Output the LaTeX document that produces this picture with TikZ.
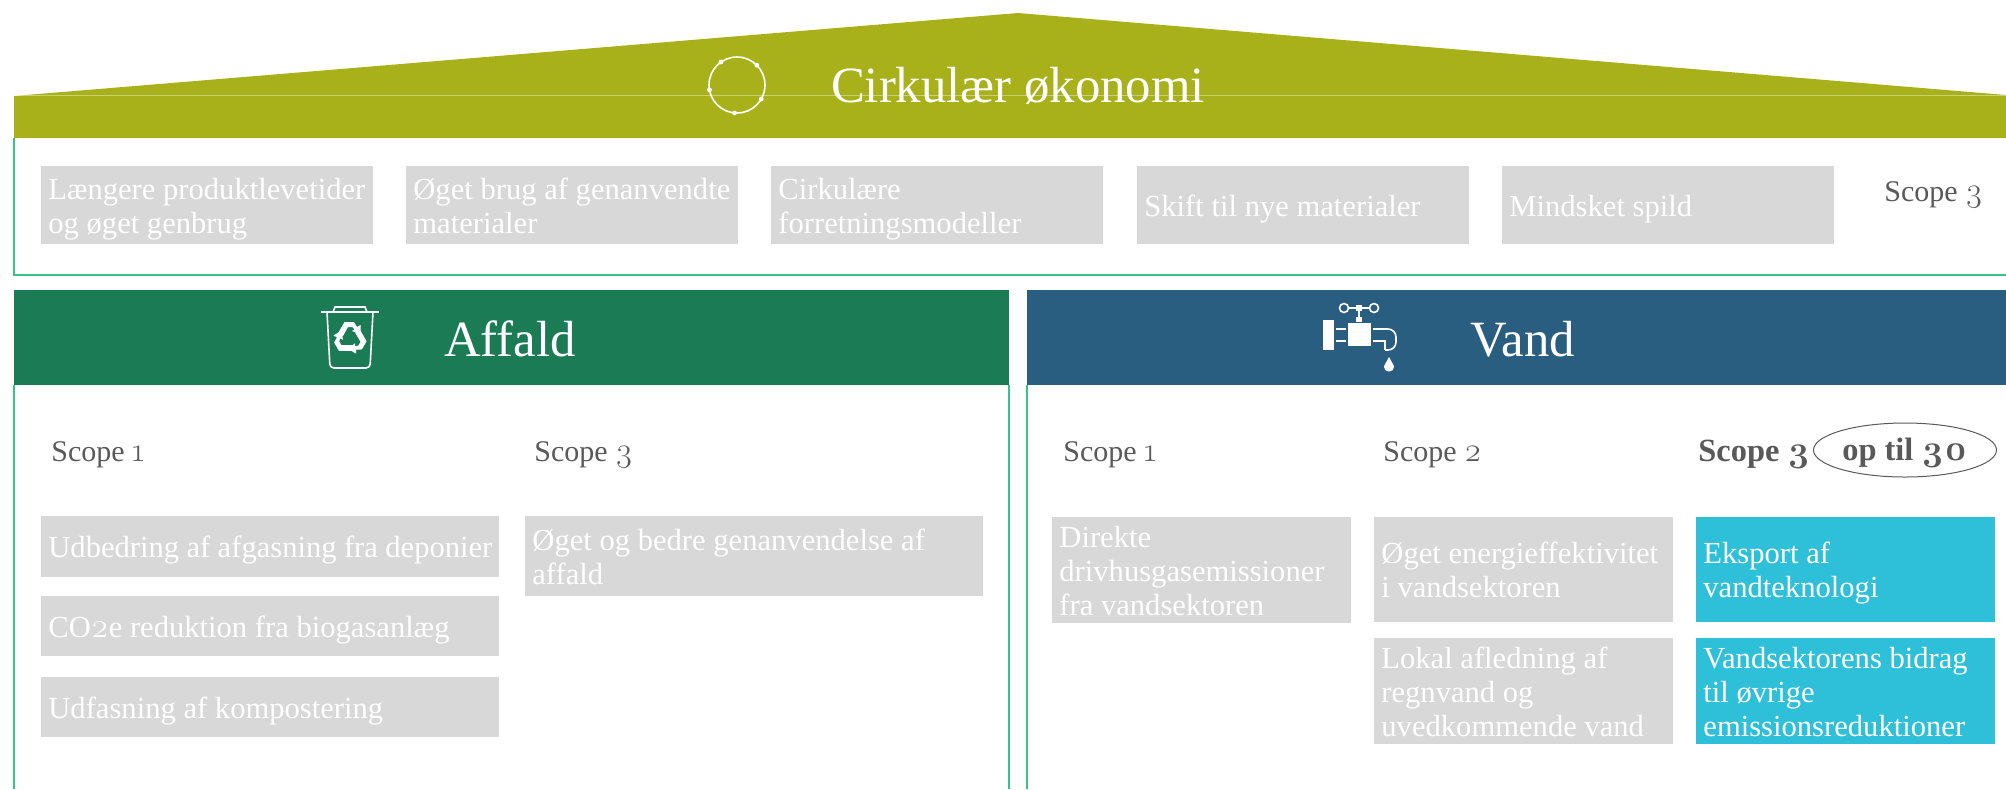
\documentclass[tikz,border=0pt]{standalone}
\usepackage{fontspec}
\setmainfont{Liberation Serif}
\newfontfamily\numfont[Numbers=OldStyle,Scale=1.12]{Latin Modern Roman}
\definecolor{roofolive}{RGB}{168, 177, 26}
\definecolor{affaldgreen}{RGB}{26, 123, 85}
\definecolor{vandblue}{RGB}{42, 94, 128}
\definecolor{framegreen}{RGB}{52, 196, 133}
\definecolor{itemgray}{RGB}{216, 216, 216}
\definecolor{itemcyan}{RGB}{46, 192, 216}
\definecolor{labelgray}{RGB}{89, 89, 89}
\newcommand{\dg}[1]{{\numfont #1}}
\hyphenpenalty=10000

\begin{document}
\begin{tikzpicture}[
    x=0.5pt, y=-0.5pt,
    frame/.style={framegreen, line width=1pt},
    headbox/.style={anchor=north west, minimum width=#1*0.5pt, minimum height=47.5pt, inner sep=0pt},
    headtitle/.style={text=white, font=\fontsize{25.4}{28}\selectfont},
    item/.style 2 args={anchor=north west, fill=itemgray, text=white, inner xsep=3.5pt, inner ysep=0pt,
        text width=#1*0.5pt-7pt, minimum height=#2*0.5pt, align=flush left,
        execute at begin node={\leavevmode\rule{0pt}{15pt}},
        execute at end node={\rule[-4pt]{0pt}{4pt}},
        font=\fontsize{15.3}{17}\selectfont},
    hotitem/.style 2 args={item={#1}{#2}, fill=itemcyan},
    scopelabel/.style={anchor=west, inner sep=0pt, text=labelgray, font=\fontsize{15}{17}\selectfont},
    boldlabel/.style={scopelabel, font=\fontsize{16.2}{17}\selectfont\bfseries},
    icon/.style={white, line width=0.8pt}
]
    \useasboundingbox (0,0) rectangle (2006,789);

    % Roof
    \fill[roofolive] (14,96) -- (1018,13) -- (2006,95) -- (2006,138) -- (14,138) -- cycle;
    \draw[white, opacity=0.4, line width=0.4pt] (14,95) -- (2006,95);
    \node[headtitle] (circulartitle) at (1018,86) {Cirkulær økonomi};

    % Circle icon
    \draw[icon] (737,85) circle (28);
    \foreach \dotangle in {95,30,-45,-125,170}
        \fill[white] (737,85) ++(\dotangle:28) circle (2.4);

    % Frames
    \draw[frame] (14,138) -- (14,275) -- (2006,275);
    \draw[frame] (14,385) -- (14,789);
    \draw[frame] (1009,385) -- (1009,789);
    \draw[frame] (1027,385) -- (1027,789);

    % Top row
    \node[item={332}{78}] (levetider) at (41,166) {Længere produktlevetider\\og øget genbrug};
    \node[item={332}{78}] (genanvendte) at (406,166) {Øget brug af genanvendte\\materialer};
    \node[item={332}{78}] (forretning) at (771,166) {Cirkulære\\forretningsmodeller};
    \node[item={332}{78}] (materialer) at (1137,166) {Skift til nye materialer};
    \node[item={332}{78}] (spild) at (1502,166) {Mindsket spild};
    \node[scopelabel] (scopetop) at (1884,195) {Scope \dg{3}};

    % Affald
    \node[headbox=995, fill=affaldgreen] (affaldhead) at (14,290) {};
    \node[headtitle] (affaldtitle) at (510,339) {Affald};
    \draw[icon] (321,312) -- (379,312);
    \draw[icon] (333,312) -- (335,307) -- (365,307) -- (367,312);
    \draw[icon, rounded corners=2pt] (327,312) -- (330,368) -- (370,368) -- (373,312);
    \foreach \turn in {0,120,240}
        \fill[white, shift={(350,338)}, rotate=\turn]
            (-13,-3) -- (-5.5,-16) -- (4,-16) -- (7,-11) -- (10.5,-13) -- (10.5,-3.5) -- (2,-7)
            -- (4.5,-8.5) -- (2.5,-11) -- (-2,-11) -- (-7,-2) -- cycle;

    \node[scopelabel] (scopeaffaldone) at (51,455) {Scope \dg{1}};
    \node[scopelabel] (scopeaffaldthree) at (534,455) {Scope \dg{3}};
    \node[item={458}{61}] (deponier) at (41,516) {Udbedring af afgasning fra deponier};
    \node[item={458}{60}] (biogas) at (41,596) {CO\dg{2}e reduktion fra biogasanlæg};
    \node[item={458}{60}] (kompost) at (41,677) {Udfasning af kompostering};
    \node[item={458}{80}] (genanvendelse) at (525,516) {Øget og bedre genanvendelse af\\affald};

    % Vand
    \node[headbox=979, fill=vandblue] (vandhead) at (1027,290) {};
    \node[headtitle] (vandtitle) at (1523,339) {Vand};
    \fill[white] (1323,320) rectangle (1334,350);
    \fill[white] (1348,323) rectangle (1371,346);
    \draw[icon] (1336,329) -- (1346,329) (1336,341) -- (1346,341);
    \draw[icon, rounded corners=4pt] (1373,329) -- (1396,329) -- (1396,350) -- (1385,350);
    \draw[icon] (1385,350) -- (1385,341) -- (1373,341);
    \fill[white] (1356,305) rectangle (1362,311);
    \fill[white] (1356,317) rectangle (1362,321.5);
    \draw[icon] (1359,311) -- (1359,317);
    \draw[icon] (1344,308) circle (4.5) (1374,308) circle (4.5);
    \draw[icon] (1348.5,308) -- (1356,308) (1362,308) -- (1369.5,308);
    \fill[white] (1389,357) .. controls (1386,363) and (1384,365) .. (1384,367)
        .. controls (1384,373) and (1394,373) .. (1394,367)
        .. controls (1394,365) and (1392,363) .. (1389,357) -- cycle;

    \node[scopelabel] (scopevandone) at (1063,455) {Scope \dg{1}};
    \node[scopelabel] (scopevandtwo) at (1383,455) {Scope \dg{2}};
    \node[boldlabel] (scopevandthree) at (1698,454) {Scope \dg{3}};
    \draw[labelgray, line width=0.5pt] (1905,450) ellipse [x radius=91.5, y radius=27];
    \node[boldlabel, anchor=center] (optil) at (1905,453) {op til \dg{30}};

    \node[item={299}{105}] (direkte) at (1052,517) {Direkte\\drivhusgasemissioner\\fra vandsektoren};
    \node[item={299}{105}] (energi) at (1374,517) {Øget energieffektivitet\\i vandsektoren};
    \node[item={299}{105}] (regnvand) at (1374,638) {Lokal afledning af\\regnvand og\\uvedkommende vand};
    \node[hotitem={299}{105}] (eksport) at (1696,517) {Eksport af\\vandteknologi};
    \node[hotitem={299}{105}] (bidrag) at (1696,638) {Vandsektorens bidrag\\til øvrige\\emissionsreduktioner};
\end{tikzpicture}
\end{document}
